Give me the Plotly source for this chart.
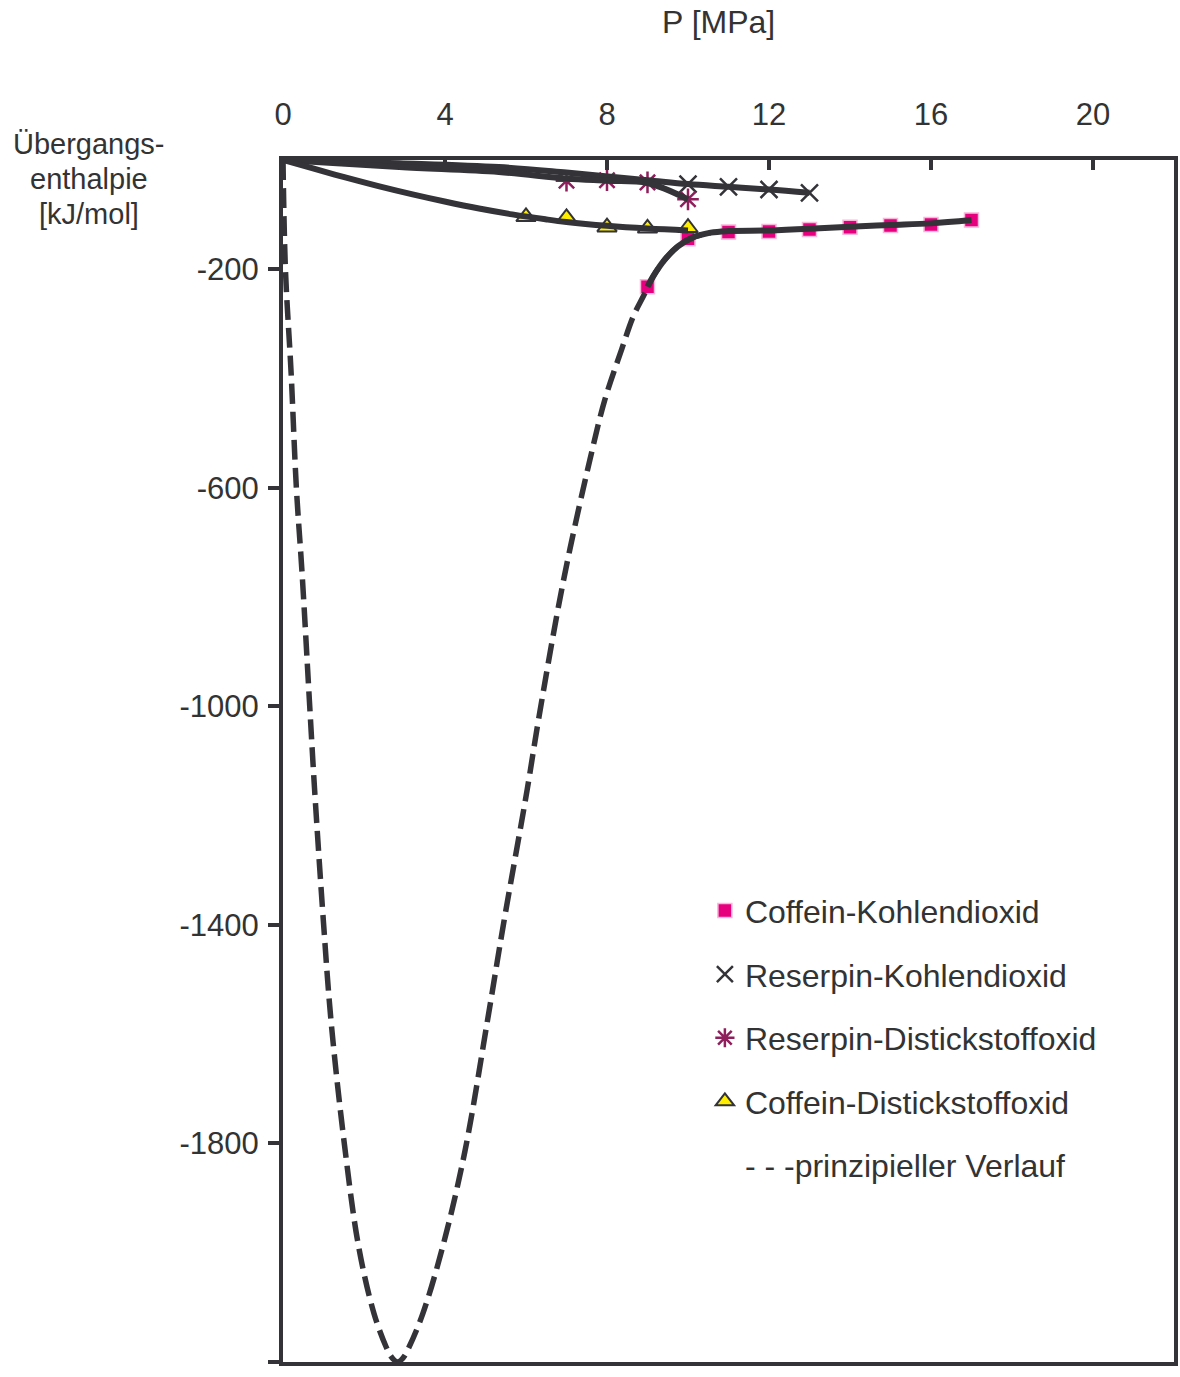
import plotly.graph_objects as go

# ---------------- data ----------------
# Coffein-Kohlendioxid (squares)
ck_x = [9, 10, 11, 12, 13, 14, 15, 16, 17]
ck_y = [-232, -144, -132, -131, -127, -123, -120, -118, -110]
ck_line_x = [9.0, 9.14, 9.43, 9.75, 10.08, 10.56, 11, 12, 13, 14, 15, 16, 17]
ck_line_y = [-232, -213, -182, -158, -143, -133, -130, -129, -126, -122, -119, -116, -110]

# Reserpin-Kohlendioxid (x)
rk_x = [10, 11, 12, 13]
rk_y = [-44, -49, -54, -60]
rk_line_x = [0, 2.87, 5.33, 7, 9, 10, 11, 12, 13]
rk_line_y = [0, -6, -13, -23, -37, -44, -49, -54, -60]

# Reserpin-Distickstoffoxid (asterisks)
rn_x = [7, 8, 9, 10]
rn_y = [-38, -37, -41, -72]
rn_line_x = [0, 2.87, 5.33, 7, 8, 9, 10]
rn_line_y = [0, -13, -22, -34, -38, -42, -72]

# Coffein-Distickstoffoxid (triangles)
cn_x = [6, 7, 8, 9, 10]
cn_y = [-104, -106, -123, -125, -124]
cn_line_x = [0, 0.74, 1.56, 2.38, 3.2, 4.02, 4.84, 5.66, 6.48, 7, 8, 9, 10]
cn_line_y = [0, -15.5, -32.3, -48.3, -63, -76.5, -88.8, -99.5, -108.5, -113.5, -120.5, -125.5, -129]

# prinzipieller Verlauf (dashed)
pv_x = [0.0, 0.06, 0.2, 0.33, 0.47, 0.66, 0.78, 1.0, 1.19, 1.53, 1.87, 2.25, 2.55,
        2.68, 2.83, 2.98, 3.11, 3.45, 3.94, 4.49, 5.04, 5.45, 6.03, 6.31, 6.93, 7.58,
        7.95, 8.36, 8.65, 8.90, 9.14, 9.43, 9.75, 10.08, 10.56]
pv_y = [0, -200, -389, -600, -755, -1000, -1152, -1396, -1579, -1810, -1990, -2112, -2173,
        -2191, -2200, -2191, -2173, -2112, -1990, -1815, -1579, -1396, -1152, -1024, -768,
        -548, -438, -347, -286, -249, -213, -182, -158, -143, -133]

x_ticks = [0, 4, 8, 12, 16, 20]
y_ticks = [-200, -600, -1000, -1400, -1800, -2200]
y_tick_text = ["-200", "-600", "-1000", "-1400", "-1800", "-2200"]

names = ["Coffein-Kohlendioxid", "Reserpin-Kohlendioxid",
         "Reserpin-Distickstoffoxid", "Coffein-Distickstoffoxid",
         "- - -prinzipieller Verlauf"]
y_title_lines = ["Übergangs-", "enthalpie", "[kJ/mol]"]

# ---------------- style ----------------
DARK = "#333338"
FONT = "Arial, Liberation Sans, sans-serif"

fig = go.Figure()

# marker traces (legend)
fig.add_trace(go.Scatter(x=ck_x, y=ck_y, mode="markers", name=names[0], legendgroup="a",
                         marker=dict(symbol="square", size=14, color="#E6007E",
                                     line=dict(color="#F7B8DA", width=1.5))))
fig.add_trace(go.Scatter(x=rk_x, y=rk_y, mode="markers", name=names[1], legendgroup="b",
                         marker=dict(symbol="x-thin-open", size=17, color=DARK,
                                     line=dict(color=DARK, width=2.5))))
fig.add_trace(go.Scatter(x=rn_x, y=rn_y, mode="markers", name=names[2], legendgroup="c",
                         marker=dict(symbol="asterisk-open", size=18, color="#8E1F5C",
                                     line=dict(color="#8E1F5C", width=2.5))))
fig.add_trace(go.Scatter(x=cn_x, y=cn_y, mode="markers", name=names[3], legendgroup="d",
                         marker=dict(symbol="triangle-up", size=17, color="#FFEE00",
                                     line=dict(color=DARK, width=2))))

# solid curves (drawn above markers, not in legend)
for lx, ly in [(rk_line_x, rk_line_y), (rn_line_x, rn_line_y),
               (cn_line_x, cn_line_y), (ck_line_x, ck_line_y)]:
    fig.add_trace(go.Scatter(x=lx, y=ly, mode="lines", showlegend=False, hoverinfo="skip",
                             line=dict(color=DARK, width=6, shape="spline", smoothing=1)))

# dashed principle curve
fig.add_trace(go.Scatter(x=pv_x, y=pv_y, mode="lines", showlegend=False,
                         line=dict(color=DARK, width=5.5, dash="20px,8px",
                                   shape="spline", smoothing=1)))
# legend-only entry for the dashed curve (text carries the dash glyphs)
fig.add_trace(go.Scatter(x=[None], y=[None], mode="markers", name=names[4], legendgroup="e",
                         marker=dict(size=1, color="rgba(0,0,0,0)")))

fig.update_layout(
    width=1180, height=1377,
    margin=dict(l=283, r=2, t=160, b=15),
    paper_bgcolor="white", plot_bgcolor="white",
    font=dict(family=FONT, size=31, color="#333333"),
    showlegend=True,
    legend=dict(x=0.4735, y=0.3983, xanchor="left", yanchor="top",
                font=dict(size=32, color="#333333"),
                bgcolor="rgba(0,0,0,0)", traceorder="grouped", tracegroupgap=19,
                itemsizing="trace"),
    xaxis=dict(range=[0, 22], side="top", tickvals=x_ticks, ticks="inside",
               ticklen=10, tickwidth=4, tickcolor=DARK, showline=True, linewidth=4,
               linecolor=DARK, mirror=True, showgrid=False, zeroline=False,
               ticklabelstandoff=19, tickfont=dict(size=31)),
    yaxis=dict(range=[-2200, 0], tickvals=y_ticks, ticktext=y_tick_text, ticks="outside",
               ticklen=11, tickwidth=4, tickcolor=DARK, showline=True, linewidth=4,
               linecolor=DARK, mirror=True, showgrid=False, zeroline=False,
               ticklabelstandoff=3, tickfont=dict(size=31)),
)

fig.add_annotation(text="P [MPa]", xref="paper", yref="paper", x=(720 - 283) / 895,
                   y=1 + (160 - 22) / 1202, showarrow=False, xanchor="center",
                   yanchor="middle", font=dict(size=32, color="#333333"))
for i, t in enumerate(y_title_lines):
    fig.add_annotation(text=t, xref="paper", yref="paper", x=(88 - 283) / 895,
                       y=1 - (144 + 35 * i - 160) / 1202, showarrow=False,
                       xanchor="center", yanchor="middle",
                       font=dict(size=29, color="#333333"))

fig.write_html("out.html")
